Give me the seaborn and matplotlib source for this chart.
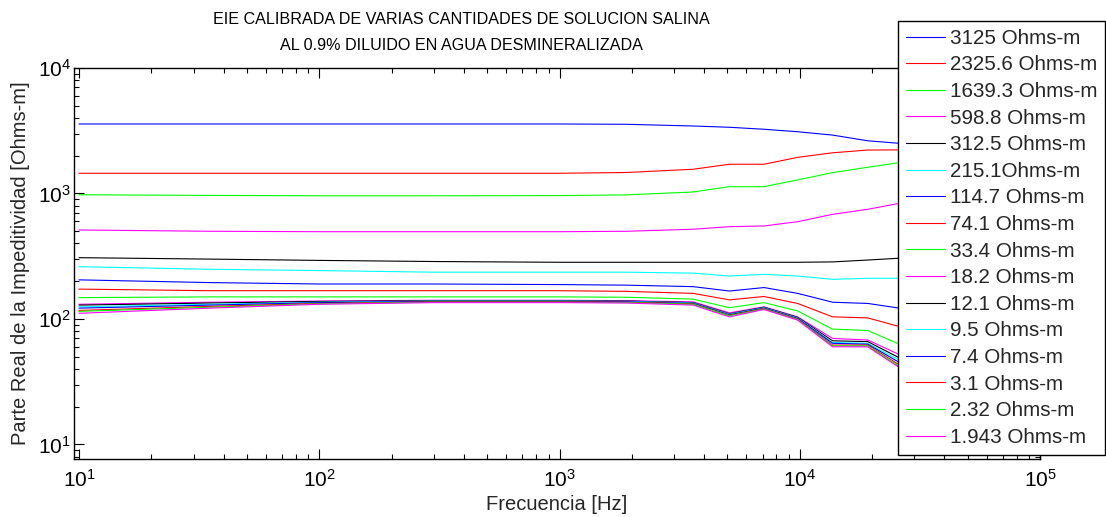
import numpy as np
import pandas as pd
import matplotlib
matplotlib.use("Agg")
import matplotlib.pyplot as plt
import seaborn as sns

# ---------------- data ----------------
freq = [10, 35, 100, 300, 1000, 1900, 3600, 5100, 7100, 9800, 13700, 19200, 26000, 36000]

labels = ["3125 Ohms-m", "2325.6 Ohms-m", "1639.3 Ohms-m", "598.8 Ohms-m",
          "312.5 Ohms-m", "215.1Ohms-m", "114.7 Ohms-m", "74.1 Ohms-m",
          "33.4 Ohms-m", "18.2 Ohms-m", "12.1 Ohms-m", "9.5 Ohms-m",
          "7.4 Ohms-m", "3.1 Ohms-m", "2.32 Ohms-m", "1.943 Ohms-m"]

s3125 = [3580, 3580, 3580, 3580, 3580, 3560, 3450, 3370, 3250, 3105, 2920, 2630, 2510, 2450]
s2325 = [1449, 1449, 1449, 1449, 1449, 1470, 1560, 1710, 1710, 1940, 2110, 2220, 2225, 2230]
s1639 = [977, 965, 959, 959, 962, 975, 1028, 1133, 1133, 1282, 1466, 1618, 1760, 1900]
s598 = [512, 500, 496, 496, 496, 500, 519, 544, 551, 596, 682, 748, 835, 920]
s312 = [308, 300, 293, 287, 283, 283, 283, 283, 283, 283, 285, 295, 305, 315]
s215 = [261, 249, 243, 236, 236, 236, 232, 220, 227, 220, 207, 211, 211, 211]
s114 = [205, 195, 190, 190, 188, 186, 181, 167, 178, 160, 136, 133, 122, 115]
s74 = [173, 168, 168, 168, 168, 166, 160, 142, 151, 133, 104, 102, 87, 80]
s33 = [148, 150, 150, 150, 150, 149, 144, 123, 135, 116, 83, 81, 63, 58]
s18 = [131, 136, 139, 141, 141, 140, 137, 112, 125, 104, 70, 68, 52, 45]
s12 = [129, 134, 138, 140, 140, 139, 135, 110, 124, 103, 67, 66, 49, 42]
s9 = [125, 131, 136, 139, 139, 138, 134, 109, 123, 102, 65, 64, 47, 40]
s7 = [122, 129, 135, 138, 138, 137, 133, 108, 122, 101, 64, 63, 45, 38]
s3 = [117, 126, 133, 137, 137, 136, 132, 107, 121, 100, 62, 62, 43, 36]
s2 = [115, 124, 132, 136, 136, 135, 131, 106, 120, 99, 61, 61, 42, 35]
s1 = [111, 122, 131, 135, 135, 134, 129, 104, 119, 98, 60, 60, 41, 34]

series = [s3125, s2325, s1639, s598, s312, s215, s114, s74, s33,
          s18, s12, s9, s7, s3, s2, s1]

base_colors = ["#0000ff", "#ff0000", "#00ff00", "#ff00ff", "#000000", "#00ffff"]
colors = [base_colors[i % 6] for i in range(len(labels))]

title1 = "EIE CALIBRADA DE VARIAS CANTIDADES DE SOLUCION SALINA"
title2 = "AL 0.9% DILUIDO EN AGUA DESMINERALIZADA"
xlabel = "Frecuencia [Hz]"
ylabel = "Parte Real de la Impeditividad [Ohms-m]"

rows = []
for lab, vals in zip(labels, series):
    for f, v in zip(freq, vals):
        rows.append({"f": f, "v": v, "serie": lab})
df = pd.DataFrame(rows)

# ---------------- plotting ----------------
sns.set_theme(style="ticks")
plt.rcParams["font.family"] = ["Liberation Sans", "DejaVu Sans"]

W, H = 1106, 517
fig = plt.figure(figsize=(W / 100, H / 100), dpi=100)
ax = fig.add_axes([74 / W, (H - 459) / H, 966 / W, 391 / H])

sns.lineplot(data=df, x="f", y="v", hue="serie", hue_order=labels,
             palette=colors, estimator=None, sort=False, linewidth=0.8,
             ax=ax)

ax.set_xscale("log")
ax.set_yscale("log")
ax.set_xlim(9.53, 1e5)
ax.set_ylim(7.66, 1e4)

ax.tick_params(which="both", direction="in", top=True, right=True,
               labelsize=15, colors="black", width=0.8)
ax.tick_params(which="major", length=7)
ax.tick_params(which="minor", length=3.5)
ax.tick_params(axis="x", which="major", pad=7)
ax.tick_params(axis="y", which="major", pad=2)
for sp in ax.spines.values():
    sp.set_linewidth(1.0)
    sp.set_color("black")

ax.set_xlabel(xlabel, fontsize=14.5, labelpad=3)
ax.set_ylabel(ylabel, fontsize=14.5, labelpad=6)

fig.text(461 / W, 1 - 20 / H, title1, ha="center", va="center",
         fontsize=11.6, color="black")
fig.text(461 / W, 1 - 45 / H, title2, ha="center", va="center",
         fontsize=11.6, color="black")

handles, labs = ax.get_legend_handles_labels()
leg = ax.legend(handles, labs, loc="upper right",
                bbox_to_anchor=(1105 / W, 1 - 21 / H),
                bbox_transform=fig.transFigure, fontsize=14.9,
                frameon=True, fancybox=False, framealpha=1,
                edgecolor="black", borderpad=0.38, labelspacing=0.367,
                handlelength=1.87, handletextpad=0.24, borderaxespad=0)
leg.get_frame().set_linewidth(1.0)
for h in leg.get_lines():
    h.set_linewidth(0.8)

fig.savefig("out.png", dpi=100)
